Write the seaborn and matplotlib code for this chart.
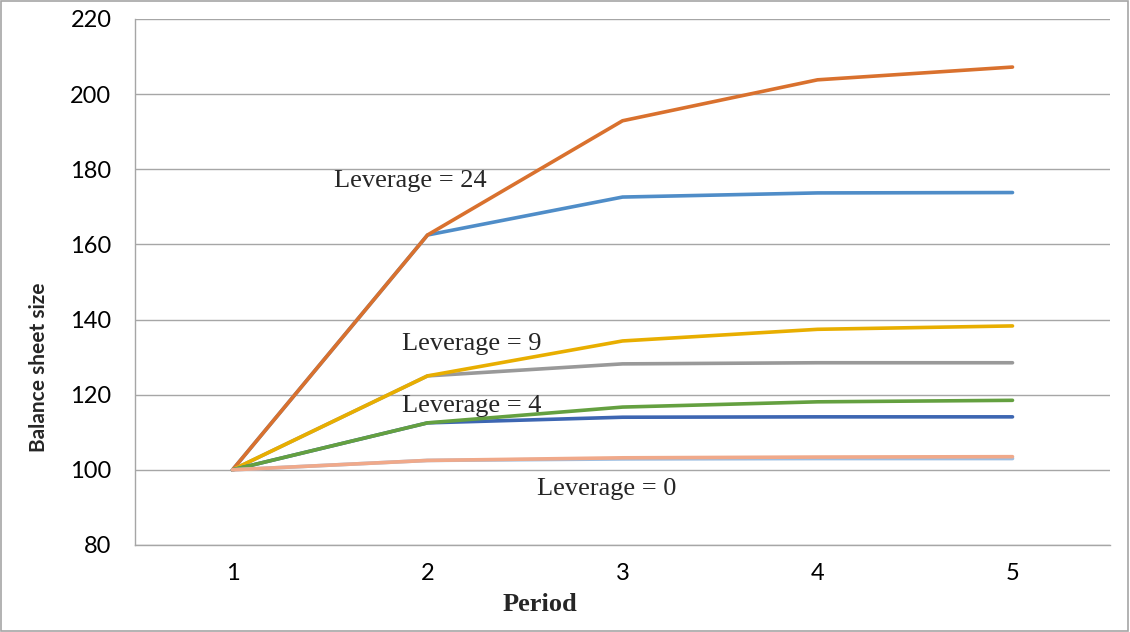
import pandas as pd
import matplotlib
matplotlib.use("Agg")
import matplotlib.pyplot as plt
import seaborn as sns
from matplotlib.patches import Rectangle

periods = [1, 2, 3, 4, 5]

lev24_high = [100, 162.5, 192.9, 203.8, 207.2]
lev24_low = [100, 162.5, 172.6, 173.7, 173.8]
lev9_high = [100, 125.0, 134.3, 137.4, 138.3]
lev9_low = [100, 125.0, 128.2, 128.5, 128.5]
lev4_high = [100, 112.5, 116.7, 118.1, 118.5]
lev4_low = [100, 112.5, 114.0, 114.1, 114.1]
lev0_high = [100, 102.5, 103.2, 103.4, 103.5]
lev0_low = [100, 102.5, 102.9, 103.0, 103.0]

series_names = ["lev24_low", "lev24_high", "lev9_low", "lev9_high",
                "lev4_low", "lev4_high", "lev0_low", "lev0_high"]
series_values = [lev24_low, lev24_high, lev9_low, lev9_high,
                 lev4_low, lev4_high, lev0_low, lev0_high]
colors = ["#4F8DC8", "#D9712E", "#999999", "#E8AE00",
          "#3D66B2", "#64A040", "#9DBFE3", "#F0A98A"]

labels = ["Leverage = 24", "Leverage = 9", "Leverage = 4", "Leverage = 0"]
label_pos = [(1.52, 177), (1.87, 133.5), (1.87, 117), (2.56, 95)]

rows = []
for name, vals in zip(series_names, series_values):
    for p, v in zip(periods, vals):
        rows.append({"series": name, "period": p, "value": v})
df = pd.DataFrame(rows)

sns.set_style("white")
plt.rcParams['font.family'] = ['Lato', 'DejaVu Sans']

fig = plt.figure(figsize=(11.3, 6.32), dpi=100)
ax = fig.add_axes([0.1195, 0.1377, 0.8628, 0.8323])

sns.lineplot(data=df, x="period", y="value", hue="series",
             hue_order=series_names, palette=colors, linewidth=2.6,
             legend=False, ax=ax)

ax.set_xlim(0.5, 5.5)
ax.set_ylim(80, 220)
ax.set_yticks(range(80, 221, 20))
ax.set_xticks(periods)
ax.set_xticks([0.5, 1.5, 2.5, 3.5, 4.5, 5.5], minor=True)
ax.tick_params(axis='x', which='major', length=0, pad=13, labelsize=17, labelcolor='black')
ax.tick_params(axis='x', which='minor', length=6, color='#A6A6A6', direction='out')
ax.tick_params(axis='y', length=7, color='#A6A6A6', labelsize=17, pad=10,
               direction='out', labelcolor='black')
ax.yaxis.grid(True, color='#A6A6A6', linewidth=1)
ax.set_axisbelow(True)

for side in ['top', 'right']:
    ax.spines[side].set_visible(False)
for side in ['left', 'bottom']:
    ax.spines[side].set_color('#A6A6A6')
    ax.spines[side].set_linewidth(1)

for txt, (x, y) in zip(labels, label_pos):
    ax.text(x, y, txt, fontsize=19, family='Liberation Serif', va='center', ha='left')

ax.set_xlabel("Period", fontsize=19, fontweight='bold', family='Liberation Serif',
              va='center')
ax.xaxis.set_label_coords(0.415, -0.114)
ax.set_ylabel("Balance sheet size", fontsize=15, fontweight='bold', va='center')
ax.yaxis.set_label_coords(-0.099, 0.338)

fig.patches.append(Rectangle((0.001, 0.001), 0.997, 0.997, transform=fig.transFigure,
                             fill=False, edgecolor='#A6A6A6', linewidth=1.2))

fig.savefig("out.png", dpi=100)
